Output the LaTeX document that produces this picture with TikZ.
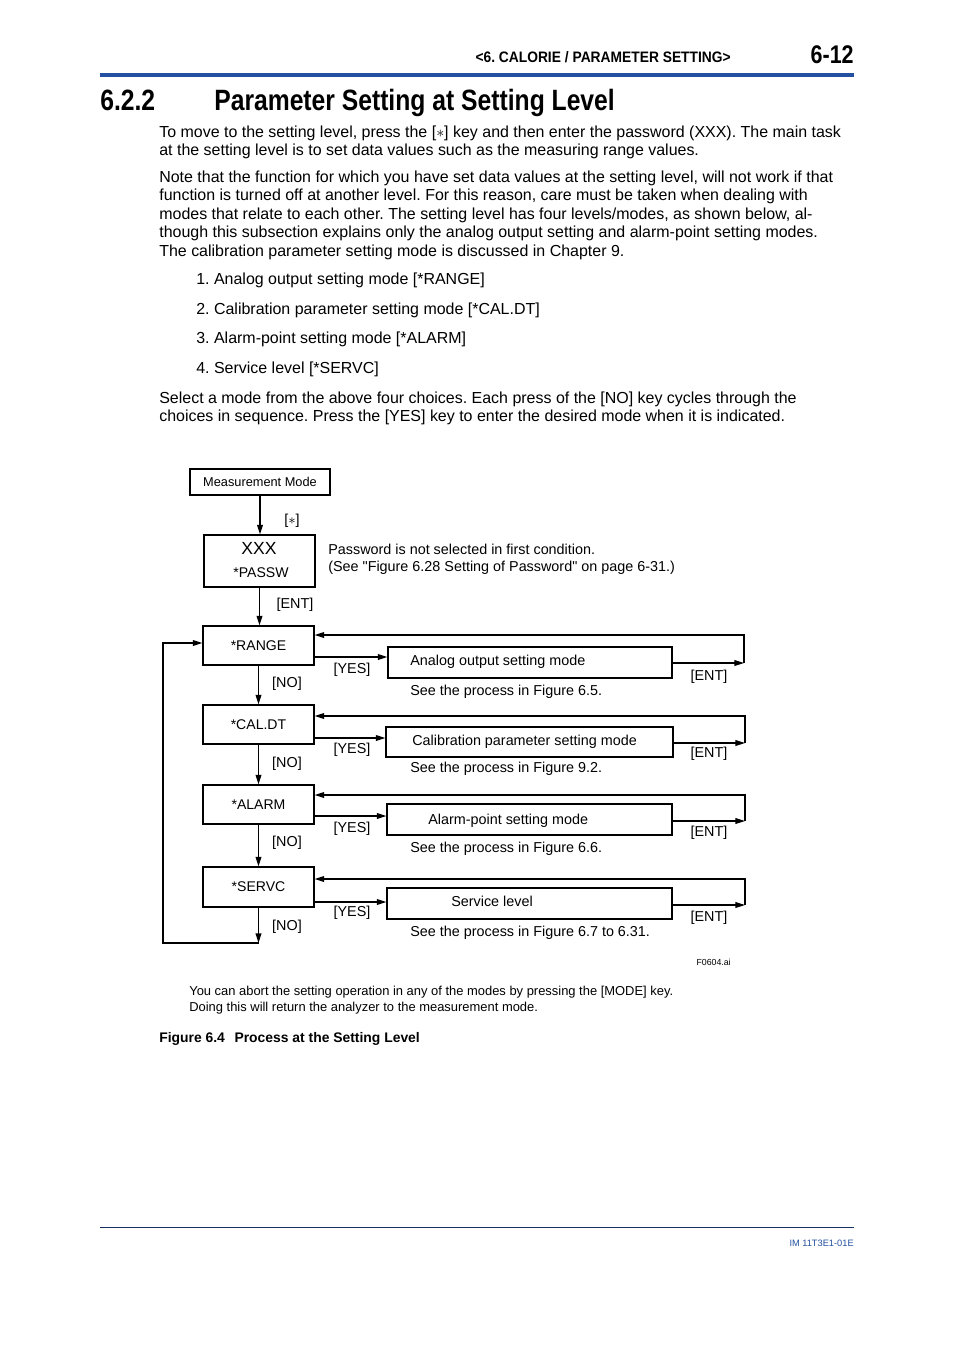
\documentclass[tikz,border=0pt]{standalone}
\usepackage{fontspec}
\setmainfont{Liberation Sans}
\newfontfamily\condfont[FakeStretch=0.84]{Liberation Sans}
\newfontfamily\headfont[FakeStretch=0.91]{Liberation Sans}
\newfontfamily\straightfont[Ligatures=TeXOff]{Liberation Sans}
\usetikzlibrary{arrows.meta, fit, positioning}
\definecolor{ykblue}{RGB}{35,80,160}
\frenchspacing
\tikzset{
  box/.style={draw, line width=0.75pt, inner sep=0pt},
  boxlbl/.style={inner sep=0pt, font=\fontsize{8.8}{10}\selectfont},
  arr/.style={line width=0.75pt, -{Triangle[length=6pt,width=3.6pt]}},
  keylbl/.style={inner sep=0pt, font=\fontsize{9}{11}\selectfont},
  bodytxt/.style={anchor=base west, inner sep=0pt, font=\fontsize{10}{12}\selectfont},
  smalltxt/.style={anchor=base west, inner sep=0pt, font=\fontsize{9}{11}\selectfont},
}

\begin{document}
\begin{tikzpicture}[x=0.2201mm, y=-0.2201mm]
  \useasboundingbox (0,0) rectangle (954,1350);
  % page head
  \node[anchor=base east, inner sep=0pt, font=\headfont\bfseries\fontsize{9.5}{11}\selectfont] (hdr) at (731,62) {<6. CALORIE / PARAMETER SETTING>};
  \node[anchor=base east, inner sep=0pt, font=\condfont\bfseries\fontsize{16}{18}\selectfont] (pgno) at (854,63) {6-12};
  \draw[ykblue, line width=2pt] (100,75) -- (854,75);
  \node[anchor=base west, inner sep=0pt, font=\condfont\bfseries\fontsize{18.4}{20}\selectfont] (secno) at (100,110) {6.2.2};
  \node[anchor=base west, inner sep=0pt, font=\condfont\bfseries\fontsize{18.4}{20}\selectfont] (sectitle) at (214,110) {Parameter Setting at Setting Level};

  % text
  \node[bodytxt] (p1a) at (159,137) {To move to the setting level, press the [$\ast$] key and then enter the password (XXX). The main task};
  \node[bodytxt] (p1b) at (159,155) {at the setting level is to set data values such as the measuring range values.};
  \node[bodytxt] (p2a) at (159,182) {Note that the function for which you have set data values at the setting level, will not work if that};
  \node[bodytxt] (p2b) at (159,200) {function is turned off at another level. For this reason, care must be taken when dealing with};
  \node[bodytxt] (p2c) at (159,219) {modes that relate to each other. The setting level has four levels/modes, as shown below, al-};
  \node[bodytxt] (p2d) at (159,237) {though this subsection explains only the analog output setting and alarm-point setting modes.};
  \node[bodytxt] (p2e) at (159,256) {The calibration parameter setting mode is discussed in Chapter 9.};
  \node[bodytxt] (it1) at (196,284) {1. Analog output setting mode [*RANGE]};
  \node[bodytxt] (it2) at (196,314) {2. Calibration parameter setting mode [*CAL.DT]};
  \node[bodytxt] (it3) at (196,343) {3. Alarm-point setting mode [*ALARM]};
  \node[bodytxt] (it4) at (196,373) {4. Service level [*SERVC]};
  \node[bodytxt] (p3a) at (159,403) {Select a mode from the above four choices. Each press of the [NO] key cycles through the};
  \node[bodytxt] (p3b) at (159,421) {choices in sequence. Press the [YES] key to enter the desired mode when it is indicated.};

  % flow chart
  \node[box, fit={(190,469) (330,495)}, label={[boxlbl, font=\fontsize{8}{10}\selectfont]center:Measurement Mode}] (meas) {};
  \node[box, fit={(204,535) (315,587)}] (passw) {};
  \node[inner sep=0pt, font=\fontsize{11}{13}\selectfont] (xxx) at (259,548) {XXX};
  \node[boxlbl] (pwname) at (261,573) {*PASSW};
  \node[smalltxt] (pwnote1) at (328,554) {Password is not selected in first condition.};
  \node[smalltxt, font=\straightfont\fontsize{9}{11}\selectfont] (pwnote2) at (328,571) {(See "Figure 6.28 Setting of Password" on page 6-31.)};
  \node[box, fit={(203,626) (314,665)}, label={[boxlbl]center:*RANGE}] (range) {};
  \node[box, fit={(203,705) (314,744)}, label={[boxlbl]center:*CAL.DT}] (caldt) {};
  \node[box, fit={(203,785) (314,824)}, label={[boxlbl]center:*ALARM}] (alarm) {};
  \node[box, fit={(203,867) (314,907)}, label={[boxlbl]center:*SERVC}] (servc) {};
  \node[box, fit={(388,647) (672,678)}] (ana) {};
  \node[box, fit={(386,727) (673,757)}] (cal) {};
  \node[box, fit={(387,804) (672,835)}] (alm) {};
  \node[box, fit={(387,888) (672,919)}] (svc) {};
  \node[smalltxt] (anatxt) at (410,665) {Analog output setting mode};
  \node[smalltxt] (caltxt) at (412,745) {Calibration parameter setting mode};
  \node[smalltxt] (almtxt) at (428,824) {Alarm-point setting mode};
  \node[smalltxt] (svctxt) at (451,906) {Service level};
  \node[smalltxt] (see1) at (410,695) {See the process in Figure 6.5.};
  \node[smalltxt] (see2) at (410,772) {See the process in Figure 9.2.};
  \node[smalltxt] (see3) at (410,852) {See the process in Figure 6.6.};
  \node[smalltxt] (see4) at (410,936) {See the process in Figure 6.7 to 6.31.};

  \draw[arr] (meas.south) -- (meas.south |- passw.north);
  \node[keylbl] (kstar) at (292,521) {[$\ast$]};
  \draw[arr] (passw.south) -- (passw.south |- range.north);
  \node[keylbl] (kent) at (295,605) {[ENT]};
  \draw[arr] (range.south) -- (caldt.north);
  \draw[arr] (caldt.south) -- (alarm.north);
  \draw[arr] (alarm.south) -- (servc.north);
  \coordinate (lp) at (258.5,943);
  \coordinate (lpb) at (163,943);
  \draw[arr] (servc.south) -- (lp);
  \draw[arr] (lp) -- (lpb) |- (range.west |- 0,643);

  \foreach \s/\m/\ya/\yb/\yc/\xr/\yy/\ye/\yn in {range/ana/657/663/635/744/670/677/684,
      caldt/cal/738/743/716/745/750/754/764, alarm/alm/816/821/795/745/829/833/843,
      servc/svc/902/905/879/745/913/918/927}
  {
    \draw[arr] (\s.east |- 0,\ya) -- (\m.west |- 0,\ya);
    \coordinate (ret-\m) at (\xr,\yb);
    \draw[arr] (\m.east |- ret-\m) -- (ret-\m);
    \draw[arr] (ret-\m) |- (\s.east |- 0,\yc);
    \node[keylbl] (yes-\s) at (352,\yy) {[YES]};
    \node[keylbl] (ent-\s) at (709,\ye) {[ENT]};
    \node[keylbl] (no-\s) at (287,\yn) {[NO]};
  }

  \node[anchor=base east, inner sep=0pt, font=\fontsize{5.5}{6}\selectfont] (fig) at (731,965) {F0604.ai};
  \node[anchor=base west, inner sep=0pt, font=\fontsize{8.1}{10}\selectfont] (note1) at (189,995) {You can abort the setting operation in any of the modes by pressing the [MODE] key.};
  \node[anchor=base west, inner sep=0pt, font=\fontsize{8.1}{10}\selectfont] (note2) at (189,1011) {Doing this will return the analyzer to the measurement mode.};
  \node[anchor=base west, inner sep=0pt, font=\bfseries\fontsize{8.7}{10}\selectfont] (caption) at (159,1042) {Figure 6.4\hspace{6pt}Process at the Setting Level};

  % page foot
  \draw[ykblue!60!black, line width=0.5pt] (100,1227) -- (854,1227);
  \node[anchor=base east, inner sep=0pt, text=ykblue, font=\fontsize{5.8}{7}\selectfont] (docno) at (854,1246) {IM 11T3E1-01E};
\end{tikzpicture}
\end{document}
